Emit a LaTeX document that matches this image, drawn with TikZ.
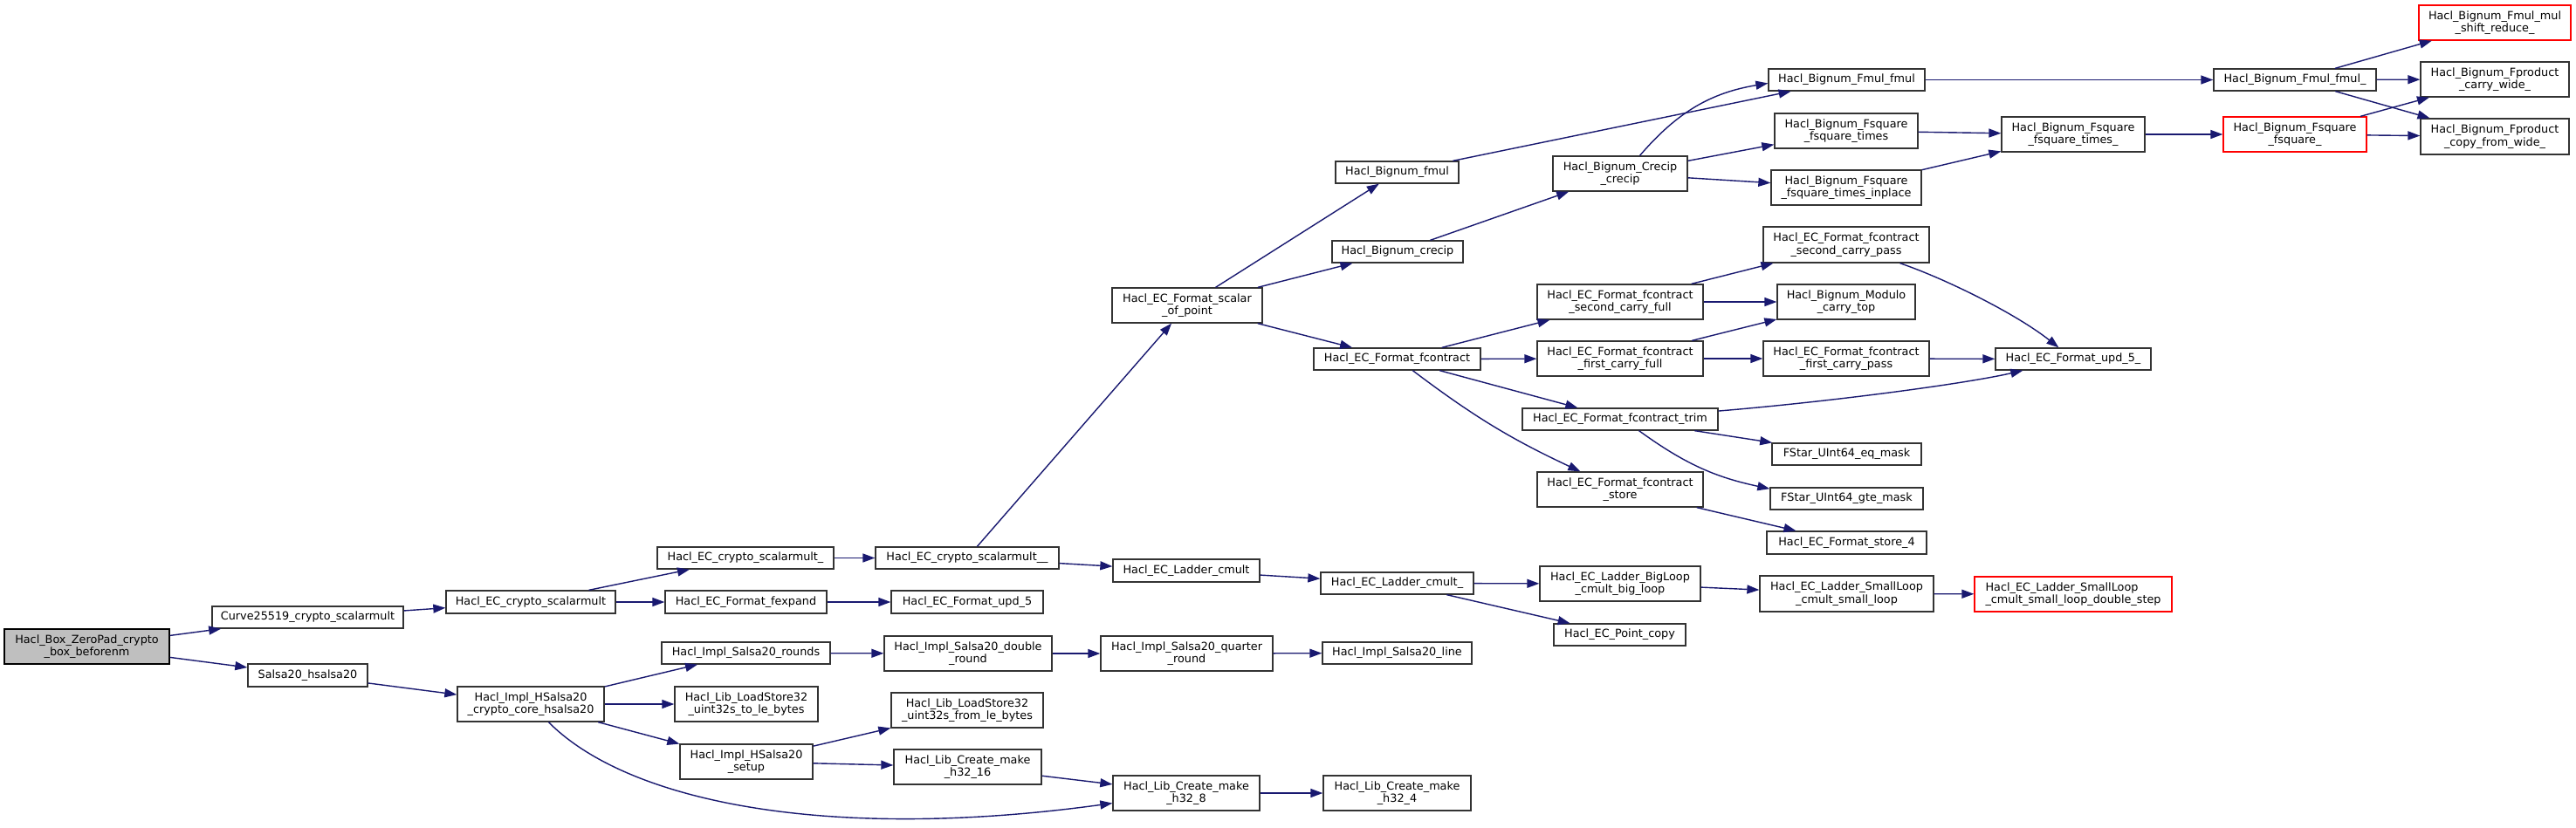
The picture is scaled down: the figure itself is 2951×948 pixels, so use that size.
\documentclass[tikz,border=0pt]{standalone}
\usepackage{fontspec}
\setmainfont{DejaVu Sans}
\usetikzlibrary{arrows.meta}
\definecolor{edgecol}{HTML}{191970}
\definecolor{bordercol}{HTML}{333333}
\definecolor{rootfill}{HTML}{BFBFBF}
\definecolor{redborder}{HTML}{FF0000}
\begin{document}
\begin{tikzpicture}[x=1pt,y=-1pt,
  fn/.style={draw=bordercol, line width=1.3pt, fill=white, inner sep=0pt, align=center,
    font=\fontsize{12.8pt}{14.6pt}\selectfont},
  redfn/.style={fn, draw=redborder},
  rootfn/.style={fn, fill=rootfill, draw=black},
  sz/.style 2 args={minimum width=#1pt, minimum height=#2pt},
  edge/.style={draw=edgecol, line width=1.4pt, -{Triangle[length=14pt,width=10pt]}}]
\useasboundingbox (0,0) rectangle (2951,948);
\fill[white] (0,0) rectangle (2951,948);
% column 1
\node[rootfn, sz={189}{40}] (box) at (99.5,741) {Hacl\_Box\_ZeroPad\_crypto\\\_box\_beforenm};
% column 2
\node[fn, sz={219}{25}] (curve) at (352.5,707.5) {Curve25519\_crypto\_scalarmult};
\node[fn, sz={137}{26}] (salsa) at (352.5,774) {Salsa20\_hsalsa20};
% column 3
\node[fn, sz={194}{26}] (ecsm) at (608,690) {Hacl\_EC\_crypto\_scalarmult};
\node[fn, sz={168}{40}] (hsalsa) at (608,807) {Hacl\_Impl\_HSalsa20\\\_crypto\_core\_hsalsa20};
% column 4
\node[fn, sz={202}{25}] (ecsm1) at (854,639.5) {Hacl\_EC\_crypto\_scalarmult\_};
\node[fn, sz={185}{26}] (fexpand) at (854.5,690) {Hacl\_EC\_Format\_fexpand};
\node[fn, sz={193}{25}] (rounds) at (854.5,748.5) {Hacl\_Impl\_Salsa20\_rounds};
\node[fn, sz={164}{40}] (tole) at (855,807) {Hacl\_Lib\_LoadStore32\\\_uint32s\_to\_le\_bytes};
\node[fn, sz={152}{40}] (setup) at (855,873) {Hacl\_Impl\_HSalsa20\\\_setup};
% column 5
\node[fn, sz={210}{25}] (ecsm2) at (1108,639.5) {Hacl\_EC\_crypto\_scalarmult\_\_};
\node[fn, sz={174}{26}] (upd5) at (1108,690) {Hacl\_EC\_Format\_upd\_5};
\node[fn, sz={192}{40}] (dround) at (1109,749) {Hacl\_Impl\_Salsa20\_double\\\_round};
\node[fn, sz={174}{40}] (fromle) at (1108,814) {Hacl\_Lib\_LoadStore32\\\_uint32s\_from\_le\_bytes};
\node[fn, sz={169}{40}] (h16) at (1108.5,879) {Hacl\_Lib\_Create\_make\\\_h32\_16};
% column 6
\node[fn, sz={172}{40}] (sop) at (1360,350) {Hacl\_EC\_Format\_scalar\\\_of\_point};
\node[fn, sz={168}{26}] (lcmult) at (1359,654) {Hacl\_EC\_Ladder\_cmult};
\node[fn, sz={197}{40}] (qround) at (1359.5,749) {Hacl\_Impl\_Salsa20\_quarter\\\_round};
\node[fn, sz={168}{40}] (h8) at (1359,909) {Hacl\_Lib\_Create\_make\\\_h32\_8};
% column 7
\node[fn, sz={141}{25}] (bfmul) at (1600.5,197.5) {Hacl\_Bignum\_fmul};
\node[fn, sz={150}{25}] (bcrecip) at (1601,288.5) {Hacl\_Bignum\_crecip};
\node[fn, sz={191}{25}] (fcontract) at (1600.5,411.5) {Hacl\_EC\_Format\_fcontract};
\node[fn, sz={175}{25}] (lcmultb) at (1600.5,668.5) {Hacl\_EC\_Ladder\_cmult\_};
\node[fn, sz={171}{25}] (line) at (1600.5,748.5) {Hacl\_Impl\_Salsa20\_line};
\node[fn, sz={169}{40}] (h4) at (1600.5,909) {Hacl\_Lib\_Create\_make\\\_h32\_4};
% column 8
\node[fn, sz={154}{40}] (ccrecip) at (1856,199) {Hacl\_Bignum\_Crecip\\\_crecip};
\node[fn, sz={190}{40}] (scf) at (1856,346) {Hacl\_EC\_Format\_fcontract\\\_second\_carry\_full};
\node[fn, sz={190}{40}] (fcf) at (1856,411) {Hacl\_EC\_Format\_fcontract\\\_first\_carry\_full};
\node[fn, sz={224}{25}] (trim) at (1856,480.5) {Hacl\_EC\_Format\_fcontract\_trim};
\node[fn, sz={190}{40}] (store) at (1856,561) {Hacl\_EC\_Format\_fcontract\\\_store};
\node[fn, sz={184}{40}] (bigloop) at (1856,669) {Hacl\_EC\_Ladder\_BigLoop\\\_cmult\_big\_loop};
\node[fn, sz={151}{25}] (pcopy) at (1855.5,727.5) {Hacl\_EC\_Point\_copy};
% column 9
\node[fn, sz={179}{25}] (fmulfmul) at (2115.5,91.5) {Hacl\_Bignum\_Fmul\_fmul};
\node[fn, sz={164}{40}] (fst) at (2115,150) {Hacl\_Bignum\_Fsquare\\\_fsquare\_times};
\node[fn, sz={172}{40}] (fsti) at (2115,215) {Hacl\_Bignum\_Fsquare\\\_fsquare\_times\_inplace};
\node[fn, sz={190}{41}] (scp) at (2115,280.5) {Hacl\_EC\_Format\_fcontract\\\_second\_carry\_pass};
\node[fn, sz={158}{40}] (mct) at (2115,346) {Hacl\_Bignum\_Modulo\\\_carry\_top};
\node[fn, sz={190}{40}] (fcp) at (2115,411) {Hacl\_EC\_Format\_fcontract\\\_first\_carry\_pass};
\node[fn, sz={171}{25}] (eqm) at (2115.5,520.5) {FStar\_UInt64\_eq\_mask};
\node[fn, sz={175}{25}] (gtem) at (2115.5,571.5) {FStar\_UInt64\_gte\_mask};
\node[fn, sz={183}{26}] (store4) at (2115.5,622) {Hacl\_EC\_Format\_store\_4};
\node[fn, sz={199}{41}] (smallloop) at (2115.5,680.5) {Hacl\_EC\_Ladder\_SmallLoop\\\_cmult\_small\_loop};
% column 10
\node[fn, sz={164}{40}] (fstb) at (2375,154) {Hacl\_Bignum\_Fsquare\\\_fsquare\_times\_};
\node[fn, sz={178}{25}] (upd5b) at (2375,411.5) {Hacl\_EC\_Format\_upd\_5\_};
\node[redfn, sz={226}{40}, align=left] (dstep) at (2375,681) {Hacl\_EC\_Ladder\_SmallLoop\\\_cmult\_small\_loop\_double\_step};
% column 11
\node[fn, sz={186}{25}] (fmulfmulb) at (2629,91.5) {Hacl\_Bignum\_Fmul\_fmul\_};
\node[redfn, sz={164}{40}] (fsq) at (2629,154) {Hacl\_Bignum\_Fsquare\\\_fsquare\_};
% column 12
\node[redfn, sz={174}{40}] (msr) at (2858,26) {Hacl\_Bignum\_Fmul\_mul\\\_shift\_reduce\_};
\node[fn, sz={170}{40}] (cw) at (2858,91) {Hacl\_Bignum\_Fproduct\\\_carry\_wide\_};
\node[fn, sz={170}{41}] (cfw) at (2858,156.5) {Hacl\_Bignum\_Fproduct\\\_copy\_from\_wide\_};
% edges
\draw[edge] (box) -- (curve);
\draw[edge] (box) -- (salsa);
\draw[edge] (curve) -- (ecsm);
\draw[edge] (salsa) -- (hsalsa);
\draw[edge] (ecsm) -- (ecsm1);
\draw[edge] (ecsm) -- (fexpand);
\draw[edge] (hsalsa) -- (rounds);
\draw[edge] (hsalsa) -- (tole);
\draw[edge] (hsalsa) -- (setup);
\draw[edge] (hsalsa) .. controls (720,920) and (950,965) .. (h8);
\draw[edge] (ecsm1) -- (ecsm2);
\draw[edge] (fexpand) -- (upd5);
\draw[edge] (rounds) -- (dround);
\draw[edge] (setup) -- (fromle);
\draw[edge] (setup) -- (h16);
\draw[edge] (ecsm2) -- (sop);
\draw[edge] (ecsm2) -- (lcmult);
\draw[edge] (dround) -- (qround);
\draw[edge] (h16) -- (h8);
\draw[edge] (sop) -- (bfmul);
\draw[edge] (sop) -- (bcrecip);
\draw[edge] (sop) -- (fcontract);
\draw[edge] (lcmult) -- (lcmultb);
\draw[edge] (qround) -- (line);
\draw[edge] (h8) -- (h4);
\draw[edge] (bfmul) -- (fmulfmul);
\draw[edge] (bcrecip) -- (ccrecip);
\draw[edge] (fcontract) -- (scf);
\draw[edge] (fcontract) -- (fcf);
\draw[edge] (fcontract) -- (trim);
\draw[edge] (fcontract) to[bend right=6] (store);
\draw[edge] (lcmultb) -- (bigloop);
\draw[edge] (lcmultb) -- (pcopy);
\draw[edge] (ccrecip) to[bend left=20] (fmulfmul);
\draw[edge] (ccrecip) -- (fst);
\draw[edge] (ccrecip) -- (fsti);
\draw[edge] (scf) -- (scp);
\draw[edge] (scf) -- (mct);
\draw[edge] (fcf) -- (mct);
\draw[edge] (fcf) -- (fcp);
\draw[edge] (trim) .. controls (2100,460) and (2250,440) .. (upd5b);
\draw[edge] (trim) -- (eqm);
\draw[edge] (trim) to[bend right=12] (gtem);
\draw[edge] (store) -- (store4);
\draw[edge] (bigloop) -- (smallloop);
\draw[edge] (fmulfmul) -- (fmulfmulb);
\draw[edge] (fst) -- (fstb);
\draw[edge] (fsti) -- (fstb);
\draw[edge] (scp) .. controls (2230,320) and (2310,360) .. (upd5b);
\draw[edge] (fcp) -- (upd5b);
\draw[edge] (smallloop) -- (dstep);
\draw[edge] (fstb) -- (fsq);
\draw[edge] (fmulfmulb) -- (msr);
\draw[edge] (fmulfmulb) -- (cw);
\draw[edge] (fmulfmulb) -- (cfw);
\draw[edge] (fsq) -- (cw);
\draw[edge] (fsq) -- (cfw);
\end{tikzpicture}
\end{document}
